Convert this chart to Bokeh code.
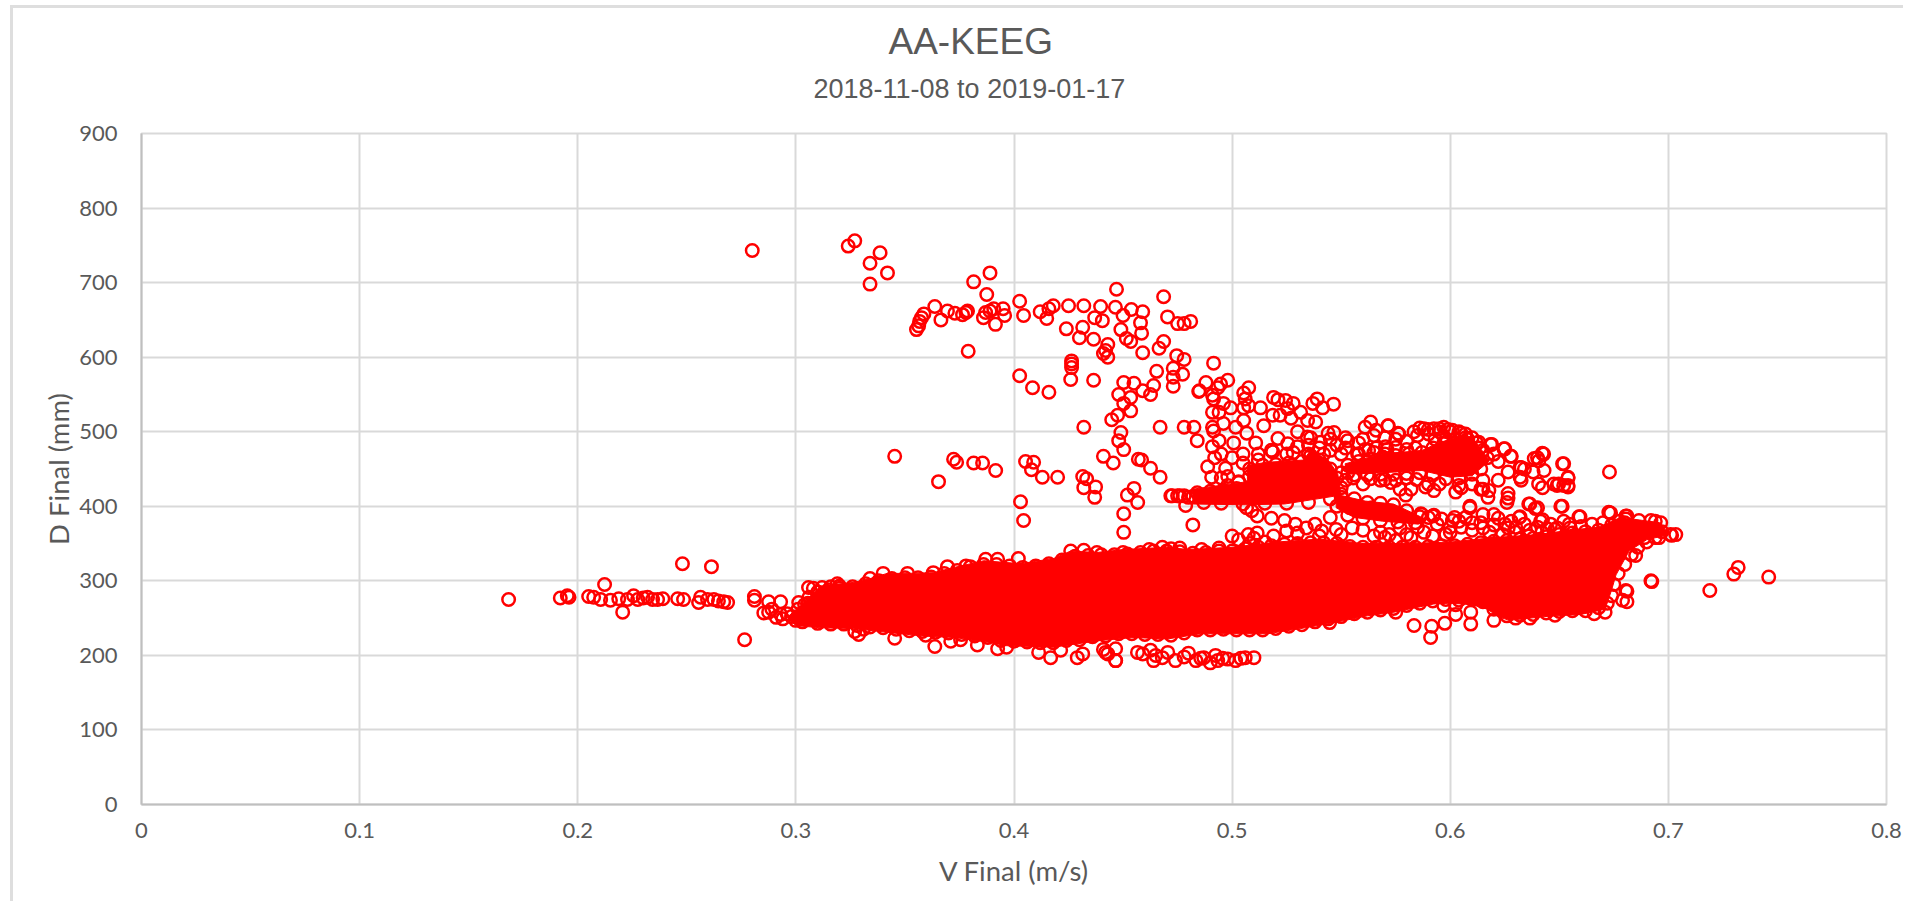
from bokeh.plotting import figure
from bokeh.embed import file_html
from bokeh.resources import INLINE
from bokeh.models import Title, FixedTicker, Range1d

chart_title = "AA-KEEG"
chart_subtitle = "2018-11-08 to 2019-01-17"
x_label = "V Final (m/s)"
y_label = "D Final (mm)"
x_ticks = [0, 0.1, 0.2, 0.3, 0.4, 0.5, 0.6, 0.7, 0.8]
x_tick_labels = ["0", "0.1", "0.2", "0.3", "0.4", "0.5", "0.6", "0.7", "0.8"]
y_ticks = [0, 100, 200, 300, 400, 500, 600, 700, 800, 900]

# Points as (V, D)
left_tail = [(.1683,275),(.192,277),(.1952,280),(.196,278),(.205,279),(.2073,278),(.2105,275),(.2123,295),(.215,274),(.2188,276),(.2206,258),(.2228,275),(.2256,280),(.2275,275),(.23,277),(.232,278),(.2343,275),(.2366,275),(.239,276),(.2458,276),(.248,323),(.2485,275),(.2554,271),(.2563,278),(.2595,275),(.2613,319),(.2624,275),(.2645,273),(.2669,272),(.2687,271),(.2765,221),(.281,279),(.281,274),(.2875,272),(.293,272),(.2853,257),(.291,251),(.294,249),(.2875,258),(.289,262),(.293,255),(.296,256),(.2999,247)]

top_points = [(.28,743),(.324,749),(.327,756),(.3386,740),(.334,726),(.342,713),(.334,698),(.389,713),(.3815,701),(.3875,684),(.4026,675),(.3637,668),(.3553,637),(.3563,642),(.3567,648),(.3576,653),(.3587,658),(.3665,650),(.3695,662),(.3729,659),(.3764,657),(.3787,662),(.378,660),(.386,653),(.387,660),(.389,662),(.3907,665),(.395,665),(.3957,656),(.3915,644),(.4044,656),(.412,661),(.415,652),(.416,665),(.418,669),(.425,669),(.432,669),(.4397,668),(.447,691),(.4465,667),(.4538,664),(.459,661),(.4686,681),(.45,656),(.458,646),(.437,653),(.4405,649),(.424,638),(.4315,640),(.449,637),(.4585,632),(.43,626),(.4365,624),(.4515,625),(.4535,621),(.443,617),(.442,609),(.441,605),(.443,600),(.459,606),(.4686,621),(.4665,612),(.4704,654),(.475,645),(.478,645),(.481,648),(.4746,602),(.478,597),(.379,608)]

mid_points = [(.4026,575),(.4085,559),(.416,553),(.4264,595),(.4264,591),(.4264,586),(.426,570),(.4365,569),(.4654,581),(.473,585),(.473,573),(.4773,577),(.473,561),(.4847,554),(.4503,566),(.455,565),(.459,555),(.464,562),(.4626,550),(.448,550),(.4535,546),(.4503,538),(.4535,528),(.4475,522),(.4448,516),(.432,506),(.467,506),(.478,506),(.4825,506),(.484,488),(.449,499),(.448,488),(.4503,476),(.441,467),(.4455,458),(.457,463),(.4585,462),(.4626,451),(.467,439),(.3453,467),(.3654,433),(.3723,463),(.3737,459),(.3815,458),(.3856,458),(.3916,448),(.4053,460),(.409,459),(.408,449),(.413,439),(.42,439),(.4315,440),(.4333,437),(.432,425),(.4374,426),(.437,412),(.452,415),(.455,424),(.4567,405),(.403,406),(.4044,381),(.4503,390),(.4503,365),(.482,375),(.4787,401),(.4719,414),(.475,414),(.478,414),(.482,413),(.486,414)]

upper_centre = [(.4915,592),(.485,555),(.488,566),(.491,549),(.4934,559),(.498,569),(.4947,564),(.4915,544),(.496,538),(.491,526),(.4993,532),(.494,526),(.491,506),(.4915,501),(.496,511),(.5016,506),(.5053,515),(.5067,498),(.494,488),(.491,480),(.5007,485),(.5108,485),(.492,465),(.4888,453),(.4906,439),(.497,451),(.5076,559),(.5053,552),(.506,544),(.5076,535),(.513,532),(.5053,532),(.519,546),(.521,543),(.5245,542),(.528,538),(.5254,531),(.539,544),(.537,538),(.5415,532),(.5465,537),(.5186,522),(.5145,508),(.522,522),(.527,518),(.5314,526),(.5346,515),(.5383,513),(.53,500),(.536,492),(.521,491),(.5255,484),(.5186,473),(.544,498),(.5467,499),(.553,488),(.558,485),(.5626,475),(.561,506),(.5635,513),(.566,502),(.5716,508),(.576,498),(.5703,480),(.575,479),(.5345,493),(.5405,486),(.545,475),(.55,470),(.548,482),(.535,470),(.528,472),(.505,470),(.512,462),(.498,440),(.503,432),(.495,438),
                (.552,478),(.558,470),(.565,472),(.57,470),(.58,476),(.584,478),(.58,487),(.575,490),(.518,475),(.512,470),(.505,458),(.5,465),(.495,470),(.525,470),(.53,480),(.54,478),(.542,470),(.535,482),(.565,495),(.56,490),(.57,492),(.545,490),(.552,492)]

right_arc = [(.5714,508),(.5765,497),(.5834,500),(.588,504),(.5925,504),(.597,506),(.601,502),(.607,497),(.613,486),(.6185,483),(.6246,477),(.6277,467),(.6325,452),(.634,450),(.6385,464),(.64,465),(.6422,471),(.6515,457),(.643,448),(.638,446),(.6265,446),(.622,435),(.6325,435),(.615,423),(.6177,421),(.6173,412),(.6265,417),(.6265,411),(.626,405),(.6405,430),(.6423,425),(.6475,430),(.649,428),(.652,428),(.654,438),(.654,426),(.636,403),(.639,397),(.6507,400),(.659,386),(.6727,392),(.673,446),(.5727,432),(.577,423),(.5796,415),(.582,423),(.5887,426),(.5925,421),(.6025,419),(.604,428),(.586,505),(.59,503),(.595,504),(.599,503),(.604,500),(.61,492),(.614,423),(.619,483),(.625,477),(.628,467),(.632,439),(.632,452),(.6406,461),(.6428,470),(.652,457),(.6497,430),(.654,439),(.654,428),(.5575,470),(.561,476),(.566,478),(.571,476),(.575,462),(.58,438),(.5845,436),(.5555,438),(.5635,437),(.57,436),
             (.593,490),(.597,494),(.605,498),(.59,497),(.585,495),(.595,500),(.6,500),(.608,490),(.6135,478),(.62,470),(.622,460),(.615,435),(.61,430),(.605,425),(.595,430),(.59,430),(.575,435),(.568,435),(.56,430),(.552,435),(.546,430),(.542,445),(.55,445)]

band_middle = [(.5066,398),(.509,394),(.5115,387),(.518,384),(.524,381),(.529,376),(.534,371),(.538,376),(.541,367),(.5477,369),(.555,371),(.5074,362),(.5115,364),(.519,360),(.554,398),(.564,398),(.574,389),(.577,371),(.582,358),(.587,389),(.592,387),(.594,376),(.602,385),(.609,400),(.607,385),(.615,389),(.62,389),(.615,371),(.625,376),(.6316,385),(.6365,403),(.64,398),(.6513,400),(.6595,386),(.6735,391),(.681,387),(.6414,380),(.6266,371),(.649,371),(.6546,376),(.5865,390),(.5925,388),(.601,381),(.609,398),(.632,386),(.6423,382),(.614,378),(.62,375),(.6,365),(.605,372),(.63,372),(.6365,368),(.6445,370),(.568,365),(.572,362),(.56,368),(.55,362),(.53,364),(.525,367),(.5,360),(.503,355),(.51,357),
               (.6,372),(.61,368),(.618,365),(.624,362),(.63,365),(.636,360),(.642,365),(.648,369),(.655,371),(.66,373),(.665,376),(.67,378),(.604,380),(.61,378),(.622,384),(.628,380),(.634,376),(.64,372),(.646,376),(.652,380),(.588,365),(.592,360),(.598,362),(.575,354),(.57,358),(.58,362),(.585,372),(.565,360),(.54,360),(.515,352),(.508,350)]

blob_rings = [(.484,418),(.49,420),(.496,421),(.502,424),(.508,440),(.508,450),(.514,455),(.52,456),(.526,458),(.532,460),(.536,468),(.54,462),(.545,450),(.548,438),(.55,425),(.55,416),(.545,410),(.535,405),(.525,404),(.515,404),(.505,403),(.495,404),(.487,405),(.48,412),(.476,414),(.4725,414),(.512,441),(.516,446),(.503,433),(.498,428),
              (.553,445),(.553,455),(.558,460),(.563,463),(.569,466),(.575,468),(.581,470),(.587,472),(.592,478),(.597,484),(.602,490),(.607,492),(.612,485),(.615,475),(.617,465),(.614,450),(.61,443),(.604,438),(.598,437),(.592,442),(.586,445),(.58,444),(.574,443),(.568,443),(.562,442),(.556,442),
              (.55,412),(.556,410),(.562,405),(.568,404),(.574,402),(.58,394),(.586,386),(.584,378),(.576,379),(.568,381),(.56,384),(.553,388),(.548,400),(.59,385),(.596,383),(.545,385)]

band_top_edge = [(.298,252),(.301,262),(.304,268),(.306,278),(.31,285),(.315,288),(.32,290),(.326,292),(.332,296),(.338,300),(.344,303),(.35,304),(.356,304),(.362,305),(.368,310),(.374,314),(.38,319),(.386,322),(.392,322),(.398,320),(.404,318),(.41,320),(.416,323),(.422,328),(.428,333),(.434,334),(.44,335),(.446,335),(.452,336),(.458,338),(.464,340),(.47,340),(.476,339),(.482,337),(.488,338),(.494,340),(.5,340),(.506,343),(.512,345),(.518,347),(.524,349),(.53,350),(.536,351),(.542,351),(.548,350),(.554,346),(.56,345),(.566,345),(.572,345),(.578,345),(.584,345),(.59,346),(.596,347),(.602,347),(.608,349),(.614,351),(.62,353),(.626,354),(.632,356),(.638,357),(.644,359),(.65,362),(.656,364),(.662,366),(.668,368),(.674,375),(.68,378),(.686,372),(.692,370),(.697,366)]

band_bottom_edge = [(.303,245),(.31,243),(.316,242),(.322,242),(.328,240),(.334,238),(.34,237),(.346,235),(.352,233),(.358,232),(.364,231),(.37,230),(.376,228),(.382,226),(.388,224),(.394,220),(.4,219),(.406,218),(.412,217),(.418,217),(.424,220),(.43,221),(.436,225),(.442,226),(.448,229),(.454,229),(.46,228),(.466,228),(.472,227),(.478,230),(.484,234),(.49,234),(.496,235),(.502,234),(.508,234),(.514,234),(.52,236),(.526,239),(.532,241),(.538,245),(.544,249),(.55,252),(.556,256),(.562,258),(.568,261),(.574,263),(.58,267),(.586,270),(.592,273),(.598,275),(.604,274),(.61,275),(.615,272),(.62,262),(.626,253),(.632,254),(.638,255),(.644,257),(.65,259),(.656,260),(.662,260),(.668,264),(.672,270),(.674,280),(.675,295),(.677,310),(.68,322),(.683,335),(.686,345),(.69,352),(.694,358)]

band_outliers = [(.3058,291),(.308,290),(.312,291),(.316,292),(.32,293),(.3013,271),(.3055,270),(.31,272),(.3125,272),(.318,271),(.319,296),(.334,303),(.34,310),(.3512,310),(.363,311),(.3695,319),(.378,320),(.387,329),(.3925,329),(.402,330),(.426,340),(.432,341),(.438,338),(.45,338),(.462,342),(.468,345),(.472,343),(.476,344),(.486,342),(.494,344),(.3288,228),(.331,235),(.327,232),(.3453,223),(.3595,227),(.3637,212),(.371,219),(.3755,221),(.3832,214),(.3925,209),(.3966,211),(.4113,204),(.4168,197),(.4214,207),(.429,197),(.4315,202),(.441,208),(.4466,193),(.443,202),(.5447,244),(.575,258),(.62,247),(.5834,240),(.591,224),(.5915,239),(.5975,243),(.6094,242),(.6025,255),(.6094,258),(.597,267),(.6025,268),(.63,250),(.6365,250),(.648,254),(.666,256),(.671,258),(.681,272),(.681,286),(.679,274),(.6924,299),(.692,300),(.685,334),(.6805,287)]

bottom_row = [(.442,204),(.4466,209),(.4466,193),(.4566,204),(.459,202),(.4626,207),(.464,193),(.4705,204),(.474,193),(.48,203),(.4834,193),(.487,197),(.4924,200),(.4934,193),(.498,195),(.504,196),(.5016,193),(.51,197),(.506,197),(.4856,196),(.49,190),(.4957,196),(.465,200),(.468,197),(.478,198)]

right_tail = [(.6805,387),(.6805,383),(.6865,381),(.692,381),(.694,380),(.6965,378),(.6957,358),(.689,358),(.684,371),(.6776,380),(.701,362),(.7034,362),(.7015,361),(.719,287),(.732,318),(.73,309),(.746,305)]

# Outlines of the areas where the circles merge into solid red
main_mass = [(.296,251),(.3022,267),(.3113,293),(.3266,298),(.334,303),(.3419,310),(.351,310),(.363,311),(.3726,318),(.3862,327),(.403,323),(.4182,330),(.426,340),(.438,338),(.45,342),(.47,345),(.48,342),(.50,345),(.52,352),(.54,356),(.56,350),(.58,350),(.60,352),(.62,358),(.64,362),(.655,368),(.668,372),(.678,385),(.696,378),(.70,362),(.69,355),(.682,340),(.676,308),(.674,288),(.671,262),(.66,255),(.643,252),(.627,247),(.622,252),(.617,262),(.61,268),(.60,270),(.5925,269),(.5742,258),(.562,253),(.5467,244),(.5315,236),(.5162,229),(.5009,229),(.4856,229),(.4703,222),(.455,224),(.4397,220),(.418,211),(.3966,213),(.3875,218),(.3725,224),(.358,226),(.3419,231),(.3266,236),(.3113,237),(.30,240)]
blob_upper_left = [(.482,423),(.507,433),(.507,455),(.516,459),(.5327,462),(.536,475),(.544,462),(.5484,444),(.55,415),(.524,403),(.506,402),(.482,403)]
blob_diagonal = [(.5477,416),(.561,407),(.574,403),(.5806,394),(.587,385),(.5855,376),(.569,380),(.556,385),(.5477,398)]
blob_arc = [(.5518,457),(.569,470),(.5872,475),(.5938,484),(.605,495),(.61,493),(.618,461),(.61,441),(.60,439),(.587,448),(.569,445),(.5526,443)]

ring_groups = [left_tail, top_points, mid_points, upper_centre, right_arc, band_middle, blob_rings,
               band_top_edge, band_bottom_edge, band_outliers, bottom_row, right_tail]
solid_groups = [main_mass, blob_upper_left, blob_diagonal, blob_arc]

RED = "#ff0000"
GRID = "#d9d9d9"
AXIS = "#bfbfbf"
TEXT = "#595959"

p = figure(width=1893, height=896, output_backend="svg", toolbar_location=None,
           x_range=Range1d(0, 0.8), y_range=Range1d(0, 900),
           min_border_left=128, min_border_right=20, min_border_top=125, min_border_bottom=100,
           background_fill_color="white", border_fill_color="white")
p.styles = {"margin-left": "10px", "margin-top": "5px",
            "border-left": "3px solid #dedede", "border-top": "3px solid #dedede"}

p.outline_line_color = GRID
p.outline_line_width = 2

for ax, ticks in ((p.xaxis[0], x_ticks), (p.yaxis[0], y_ticks)):
    ax.ticker = FixedTicker(ticks=ticks)
    ax.axis_line_color = AXIS
    ax.axis_line_width = 2
    ax.major_tick_line_color = None
    ax.minor_tick_line_color = None
    ax.major_label_text_font = "Lato"
    ax.major_label_text_font_size = "22px"
    ax.major_label_text_color = TEXT
    ax.axis_label_text_font = "Lato"
    ax.axis_label_text_font_size = "27.5px"
    ax.axis_label_text_font_style = "normal"
    ax.axis_label_text_color = TEXT

p.xaxis[0].major_label_overrides = {t: s for t, s in zip(x_ticks, x_tick_labels)}
p.xaxis[0].axis_label = x_label
p.yaxis[0].axis_label = y_label
p.xaxis[0].major_label_standoff = 12
p.yaxis[0].major_label_standoff = 18
p.xaxis[0].axis_label_standoff = 13
p.yaxis[0].axis_label_standoff = 1

p.xgrid.grid_line_color = GRID
p.ygrid.grid_line_color = GRID
p.xgrid.grid_line_width = 2
p.ygrid.grid_line_width = 2

for group in solid_groups:
    p.patch([a for a, b in group], [b for a, b in group], fill_color=RED, line_color=RED, line_width=1)

for group in ring_groups:
    p.scatter([a for a, b in group], [b for a, b in group], marker="circle", size=12.5,
              fill_alpha=0, line_color=RED, line_width=2.5)

p.add_layout(Title(text=chart_subtitle, text_font="Liberation Sans", text_font_size="27px",
                   text_font_style="normal", text_color=TEXT, align="left", offset=672, standoff=59), "above")
p.add_layout(Title(text=chart_title, text_font="Liberation Sans", text_font_size="37px",
                   text_font_style="normal", text_color=TEXT, align="left", offset=747, standoff=-39), "above")

open("out.html", "w").write(file_html(p, INLINE))
